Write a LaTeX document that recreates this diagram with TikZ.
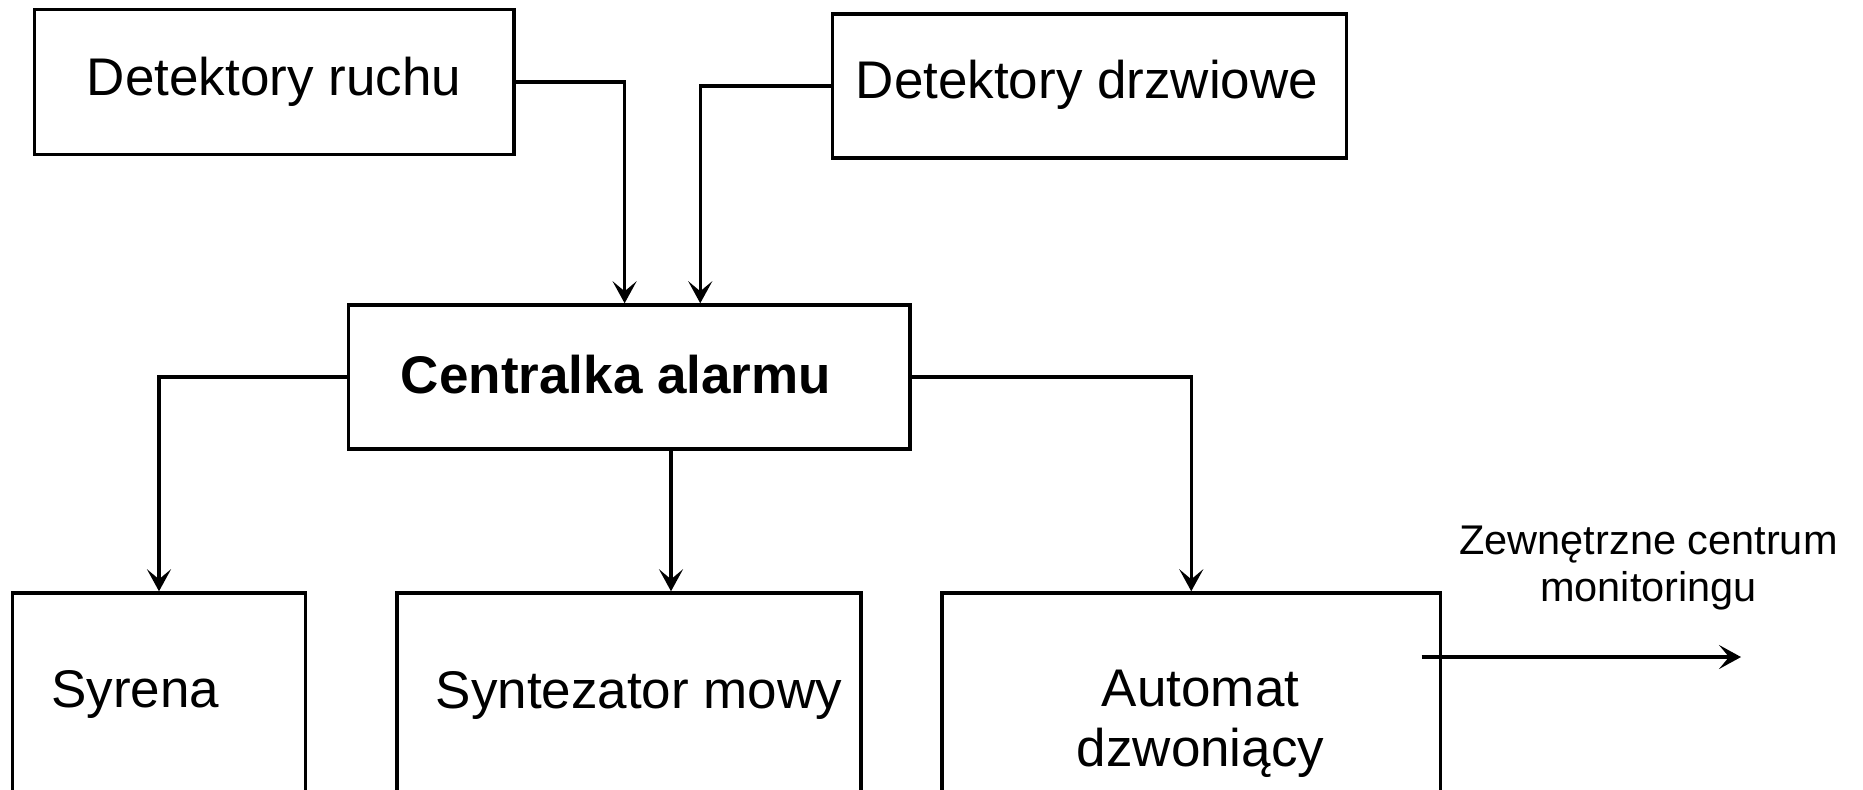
\documentclass[tikz,border=0pt]{standalone}
\usepackage{fontspec}
\setmainfont{Liberation Sans}
\usetikzlibrary{arrows.meta}

\tikzset{
  box/.style={draw, line width=1.4pt, rectangle, inner sep=0pt},
  lbl/.style={inner sep=0pt, anchor=base, font=\fontsize{21.2}{24}\selectfont},
  note/.style={inner sep=0pt, anchor=base, align=center, font=\fontsize{16.6}{18.8}\selectfont},
  conn/.style={line width=1.4pt, -{Stealth[length=8.8pt, width=9.6pt, inset=4pt]}}
}

\begin{document}
\begin{tikzpicture}[x=0.4pt, y=-0.4pt]
  % page frame, 1863 x 789 units, origin at top left
  \useasboundingbox (0,0) rectangle (1863,789);
  \clip (0,0) rectangle (1863,789);

  % input blocks
  \node[box, minimum width=191.8pt, minimum height=58pt] (ruchu) at (274.2,81.8) {};
  \node[box, minimum width=205.6pt, minimum height=57.6pt] (drzw) at (1089.5,86) {};
  \node[lbl] (truchu) at (274,95) {Detektory ruchu};
  \node[lbl] (tdrzw) at (1087,98.3) {Detektory drzwiowe};

  % control unit
  \node[box, minimum width=224.6pt, minimum height=57.6pt] (cen) at (629.25,377) {};
  \node[lbl, font=\fontsize{21.2}{24}\selectfont\bfseries] (tcen) at (616,393.3) {Centralka alarmu};

  % output blocks (running past the lower edge)
  \node[box, minimum width=117.2pt, minimum height=122.8pt] (syr) at (159,746.5) {};
  \node[box, minimum width=185.6pt, minimum height=122.8pt] (synt) at (629,746.5) {};
  \node[box, minimum width=199.4pt, minimum height=122.8pt] (auto) at (1191.25,746.5) {};
  \node[lbl, anchor=base west] (tsyr) at (50.7,707.3) {Syrena};
  \node[lbl] (tsynt) at (639,708) {Syntezator mowy};
  % two-line labels: the base anchor sits on the last line
  \node[lbl, align=center] (tauto) at (1200.5,766) {Automat\\dzwoniący};

  % link to the monitoring centre
  \node[note] (tmon) at (1648.5,601) {Zewnętrzne centrum\\monitoringu};
  \coordinate (extA) at (1421.7,657);
  \coordinate (extB) at (1741,657);

  % connectors
  \draw[conn] (ruchu.east) -| ([xshift=-1.86pt]cen.north);
  \draw[conn] (drzw.west) -| ([xshift=28.4pt]cen.north);
  \draw[conn] (cen.west) -| (syr.north);
  \draw[conn] ([xshift=16.7pt]cen.south) -- ([xshift=16.7pt]cen.south |- synt.north);
  \draw[conn] (cen.east) -| (auto.north);
  \draw[conn] (extA) -- (extB);
\end{tikzpicture}
\end{document}
